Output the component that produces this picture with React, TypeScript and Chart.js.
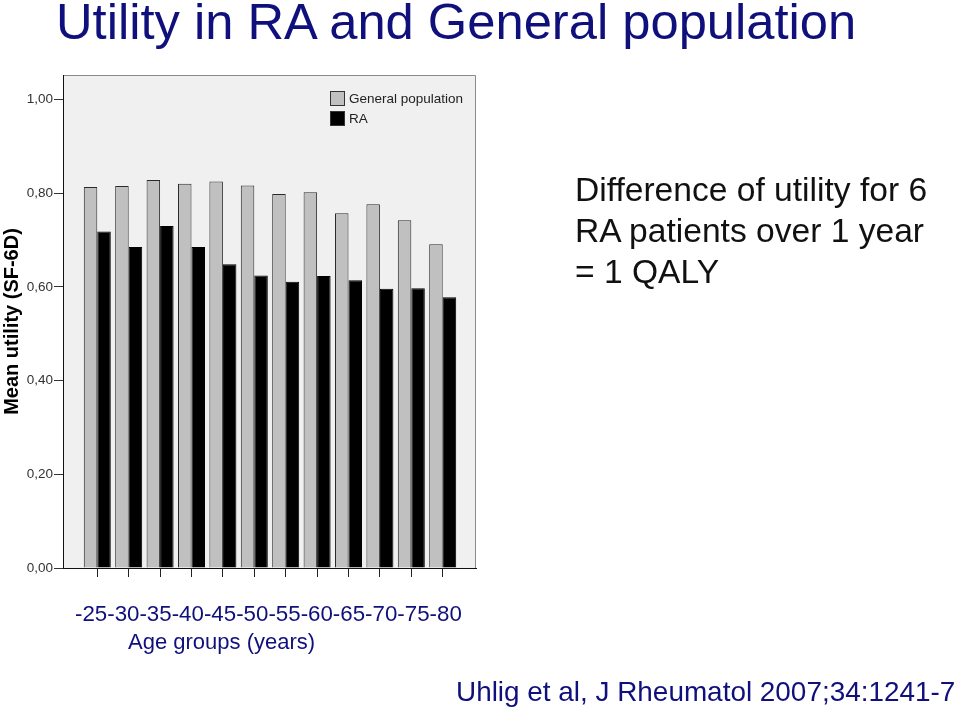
import React, { useEffect, useRef } from "react";
import { Chart, registerables } from "chart.js";

Chart.register(...registerables);

const ageGroups = ["-25", "-30", "-35", "-40", "-45", "-50", "-55", "-60", "-65", "-70", "-75", "-80"];
const generalPopulation = [0.813, 0.815, 0.828, 0.82, 0.825, 0.816, 0.798, 0.802, 0.757, 0.776, 0.742, 0.691];
const raPatients = [0.718, 0.685, 0.73, 0.685, 0.648, 0.624, 0.611, 0.623, 0.614, 0.596, 0.597, 0.578];
const yTickValues = [0, 0.2, 0.4, 0.6, 0.8, 1.0];
const yTickLabels = ["0,00", "0,20", "0,40", "0,60", "0,80", "1,00"];
const seriesNames = ["General population", "RA"];

const FONT = "'Liberation Sans', Arial, Helvetica, sans-serif";
const NAVY = "#10107c";

const plotDecor = {
  id: "plotDecor",
  beforeDraw(chart: any) {
    const { ctx, chartArea } = chart;
    ctx.save();
    ctx.fillStyle = "#f0f0f0";
    ctx.fillRect(chartArea.left, chartArea.top, chartArea.right - chartArea.left, chartArea.bottom - chartArea.top);
    ctx.strokeStyle = "#8a8a8a";
    ctx.lineWidth = 1;
    ctx.beginPath();
    ctx.moveTo(chartArea.left, Math.round(chartArea.top) + 0.5);
    ctx.lineTo(Math.round(chartArea.right) - 0.5, Math.round(chartArea.top) + 0.5);
    ctx.lineTo(Math.round(chartArea.right) - 0.5, chartArea.bottom);
    ctx.stroke();
    ctx.restore();
  },
  afterDraw(chart: any) {
    const { ctx, chartArea } = chart;
    const x0 = chartArea.right - 146;
    const y0 = chartArea.top + 16;
    ctx.save();
    ctx.font = `13.5px ${FONT}`;
    ctx.textBaseline = "middle";
    ctx.textAlign = "left";
    chart.data.datasets.forEach((ds: any, i: number) => {
      const y = y0 + i * 20;
      ctx.fillStyle = ds.backgroundColor;
      ctx.fillRect(x0, y, 15, 15);
      ctx.strokeStyle = "#333";
      ctx.lineWidth = 1;
      ctx.strokeRect(x0 + 0.5, y + 0.5, 14, 14);
      ctx.fillStyle = "#222";
      ctx.fillText(ds.label, x0 + 19, y + 8);
    });
    ctx.restore();
  },
};

function UtilityChart() {
  const ref = useRef<HTMLCanvasElement | null>(null);
  useEffect(() => {
    if (!ref.current) return;
    const chart = new Chart(ref.current, {
      type: "bar",
      data: {
        datasets: [
          {
            label: seriesNames[0],
            data: generalPopulation.map((v, i) => ({ x: i, y: v })),
            backgroundColor: "#c0c0c0",
            borderColor: "#2a2a2a",
            borderWidth: 1,
          },
          {
            label: seriesNames[1],
            data: raPatients.map((v, i) => ({ x: i, y: v })),
            backgroundColor: "#000000",
            borderColor: "#000000",
            borderWidth: 1,
          },
        ],
      },
      options: {
        animation: false,
        responsive: false,
        devicePixelRatio: 1,
        categoryPercentage: 0.86,
        barPercentage: 1.0,
        layout: { padding: { top: 75, right: 484, bottom: 84, left: 0 } },
        plugins: { legend: { display: false }, tooltip: { enabled: false } },
        scales: {
          x: {
            type: "linear",
            position: "bottom",
            offset: false,
            weight: 0,
            min: -1.092,
            max: 12.06,
            afterBuildTicks: (s: any) => {
              s.ticks = ageGroups.map((_, i) => ({ value: i }));
            },
            afterFit: (s: any) => {
              s.height = 9;
            },
            grid: { offset: false, drawOnChartArea: false, drawTicks: true, tickLength: 9, color: "#222" },
            border: { display: true, color: "#111", width: 1 },
            ticks: { display: false },
          },
          x2: {
            type: "linear",
            position: "bottom",
            offset: false,
            weight: 1,
            min: -0.871,
            max: 11.94,
            afterBuildTicks: (s: any) => {
              s.ticks = ageGroups.map((_, i) => ({ value: i }));
            },
            afterFit: (s: any) => {
              s.height = 53;
            },
            grid: { offset: false, display: false, drawTicks: false },
            border: { display: false },
            ticks: {
              autoSkip: false,
              maxRotation: 0,
              minRotation: 0,
              padding: 24,
              color: NAVY,
              font: { family: FONT, size: 22.3 },
              callback: (_v: any, i: number) => ageGroups[i],
            },
          },
          y: {
            type: "linear",
            min: 0,
            max: 1.052,
            afterBuildTicks: (s: any) => {
              s.ticks = yTickValues.map((v) => ({ value: v }));
            },
            afterFit: (s: any) => {
              s.width = 63;
            },
            grid: { drawOnChartArea: false, drawTicks: true, tickLength: 9, color: "#333" },
            border: { display: true, color: "#111", width: 1 },
            ticks: {
              padding: 1,
              color: "#333",
              font: { family: FONT, size: 13.5 },
              callback: (_v: any, i: number) => yTickLabels[i],
            },
            title: {
              display: true,
              text: "Mean utility (SF-6D)",
              color: "#000",
              font: { family: FONT, size: 20, weight: "bold" },
              padding: { top: 0, bottom: 0 },
            },
          },
        },
      },
      plugins: [plotDecor],
    });
    return () => chart.destroy();
  }, []);
  return (
    <canvas
      ref={ref}
      width={960}
      height={714}
      style={{ position: "absolute", left: 0, top: 0, width: 960, height: 714 }}
    />
  );
}

export default function App() {
  const text = (style: React.CSSProperties, content: React.ReactNode) => (
    <div
      style={{
        position: "absolute",
        fontFamily: FONT,
        whiteSpace: "nowrap",
        zIndex: 2,
        ...style,
      }}
    >
      {content}
    </div>
  );
  return (
    <div
      style={{
        position: "absolute",
        left: 0,
        top: 0,
        width: 960,
        height: 714,
        background: "#ffffff",
        overflow: "hidden",
      }}
    >
      <UtilityChart />
      {text(
        { left: 56, top: -3, fontSize: 50.7, lineHeight: "50px", color: NAVY },
        "Utility in RA and General population"
      )}
      {text(
        { left: 575, top: 169, fontSize: 33.6, lineHeight: "41px", color: "#111" },
        <>
          Difference of utility for 6
          <br />
          RA patients over 1 year
          <br />= 1 QALY
        </>
      )}
      {text({ left: 128, top: 631, fontSize: 22, lineHeight: "22px", color: NAVY }, "Age groups (years)")}
      {text(
        { left: 456, top: 678, fontSize: 27.9, lineHeight: "28px", color: NAVY },
        "Uhlig et al, J Rheumatol 2007;34:1241-7"
      )}
    </div>
  );
}
